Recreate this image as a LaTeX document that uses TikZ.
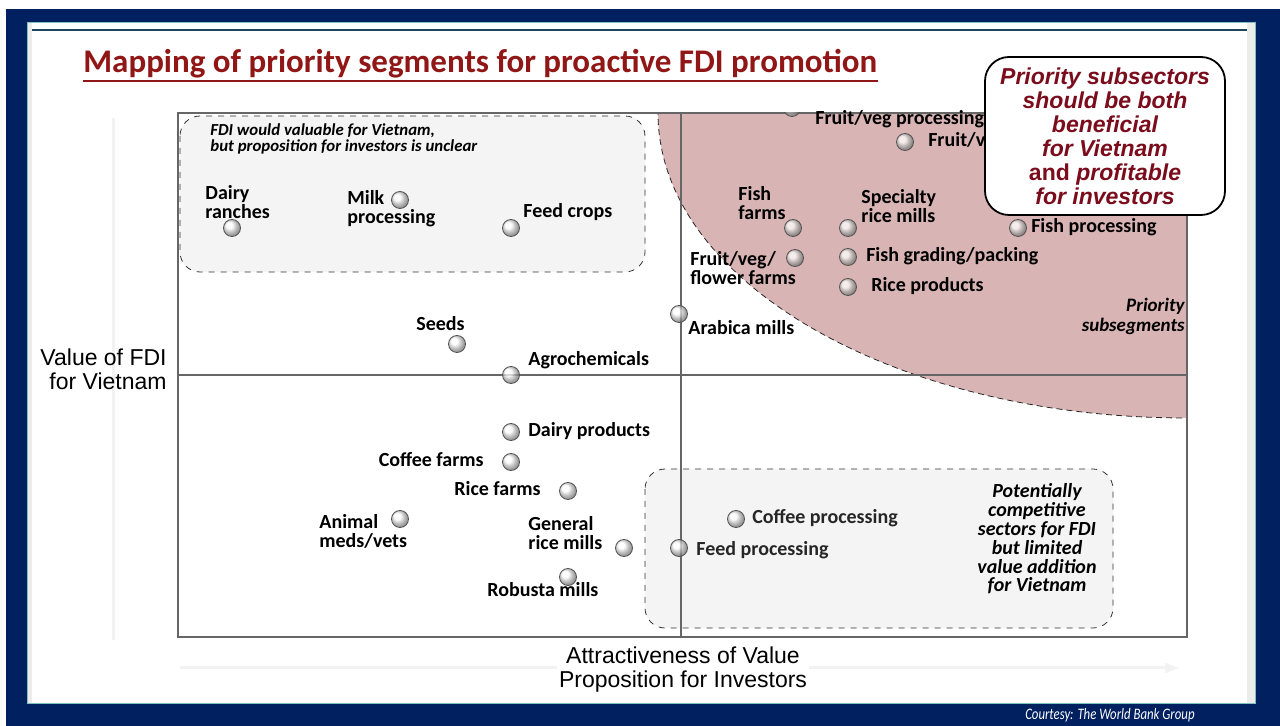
\documentclass[tikz,border=0pt]{standalone}
\usepackage{fontspec}
\setmainfont{Carlito}
\newfontfamily\arialfont{Liberation Sans}
\newfontfamily\narrowfont[FakeStretch=0.8]{Carlito}
\usetikzlibrary{positioning}
\usetikzlibrary{calc}

\definecolor{navy}{RGB}{0,32,96}
\definecolor{titlered}{RGB}{145,22,22}
\definecolor{calloutred}{RGB}{122,12,28}
\definecolor{pinkzone}{RGB}{217,180,180}
\definecolor{tealline}{RGB}{30,70,90}

\begin{document}
\begin{tikzpicture}[x=0.5pt, y=-0.5pt,
    dot/.style={circle, minimum size=8.5pt, inner sep=0pt, draw=gray!65!black, ball color=white, fill opacity=0.75},
    lbl/.style={font=\fontsize{10}{10}\selectfont\bfseries, inner sep=0pt, text height=7pt, text depth=2pt},
    lbltwo/.style={font=\fontsize{10}{9.5}\selectfont\bfseries, inner sep=0pt, align=left},
    zonebox/.style={draw=gray!40!black, dashed, fill=gray!9, rounded corners=10pt},
    note/.style={font=\fontsize{10}{9.4}\selectfont\bfseries\itshape, inner sep=0pt, align=center},
    axislbl/.style={font=\arialfont\fontsize{11.5}{12}\selectfont, inner sep=1pt},
    faint/.style={gray!10, line width=1.5pt}]
    \useasboundingbox (0,0) rectangle (1280,726);
    % frame of the slide
    \fill[white] (0,0) rectangle (1280,726);
    \fill[navy] (6,9) rectangle (1280,726);
    \fill[white] (27,22) rectangle (1255,703);
    \fill[gray!15] (27,22) rectangle (32,703);
    \fill[gray!15] (1247,22) rectangle (1255,703);
    \draw[teal!50, thin] (27,22) rectangle (1255,703);
    \draw[tealline, line width=1pt] (32,30) -- (1247,30);

    \node[anchor=base west, inner sep=0pt, text=titlered, font=\fontsize{16.5}{18}\selectfont\bfseries] (title) at (83,73) {Mapping of priority segments for proactive FDI promotion};
    \draw[titlered, line width=0.8pt] ($(title.base west)+(0,8)$) -- ($(title.base east)+(0,8)$);

    % faint axis arrows
    \draw[faint] (113,640) -- (113,118);
    \draw[faint, -latex] (180,668) -- (1180,668);

    % zones
    \begin{scope}
        \clip (178,113) rectangle (1187,637);
        \fill[pinkzone] (1187,113) ellipse [x radius=264.5pt, y radius=152.5pt];
        \draw[gray!30!black, densely dashed] (1187,113) ellipse [x radius=264.5pt, y radius=152.5pt];
    \end{scope}
    \draw[zonebox] (180,116) rectangle (645,272);
    \draw[zonebox] (645,469) rectangle (1113,628);

    % plot frame and axes
    \draw[gray!80!black, line width=0.6pt] (178,113) rectangle (1187,637);
    \draw[gray!80!black, line width=0.6pt] (681,113) -- (681,637);
    \draw[gray!80!black, line width=0.6pt] (178,375) -- (1187,375);

    \node[axislbl, anchor=east, align=right] (ylab) at (169,369) {Value of FDI\\for Vietnam};
    \node[axislbl, fill=white, align=center] (xlab) at (683,670) {Attractiveness of Value\\Proposition for Investors};

    % zone notes
    \node[note, anchor=north west, align=left, font=\fontsize{8.4}{8}\selectfont\bfseries\itshape] (unclear) at (210,123) {FDI would valuable for Vietnam,\\but proposition for investors is unclear};
    \node[note] (limited) at (1037,539) {Potentially\\competitive\\sectors for FDI\\but limited\\value addition\\for Vietnam};
    \node[note, anchor=north east, align=right, font=\fontsize{9.5}{10}\selectfont\bfseries\itshape] (prio) at (1185,298) {Priority\\subsegments};

    % subsectors
    \node[dot] (ranch) at (232,228) {};
    \node[lbltwo, anchor=north west] (ranch-t) at ($(ranch)+(-27,-43)$) {Dairy\\ranches};
    \node[dot] (milk) at (400,200) {};
    \node[lbltwo, anchor=north west] (milk-t) at ($(milk)+(-53,-10)$) {Milk\\processing};
    \node[dot] (feedcrop) at (511,228) {};
    \node[lbl, anchor=west] (feedcrop-t) at ($(feedcrop)+(12,-15)$) {Feed crops};
    \node[dot] (seeds) at (457,344) {};
    \node[lbl, anchor=west] (seeds-t) at ($(seeds)+(-41,-18)$) {Seeds};
    \node[dot] (agro) at (511,375) {};
    \node[lbl, anchor=west] (agro-t) at ($(agro)+(17,-14)$) {Agrochemicals};
    \node[dot] (arabica) at (679,314) {};
    \node[lbl, anchor=west] (arabica-t) at ($(arabica)+(9,16)$) {Arabica mills};
    \node[dot] (dairyprod) at (511,432) {};
    \node[lbl, right=4pt of dairyprod] (dairyprod-t) {Dairy products};
    \node[dot] (coffeefarm) at (511,462) {};
    \node[lbl, left=9pt of coffeefarm] (coffeefarm-t) {Coffee farms};
    \node[dot] (ricefarm) at (568,491) {};
    \node[lbl, left=9pt of ricefarm] (ricefarm-t) {Rice farms};
    \node[dot] (animal) at (400,519) {};
    \node[lbltwo, anchor=north west] (animal-t) at ($(animal)+(-81,-5)$) {Animal\\meds/vets};
    \node[dot] (genrice) at (624,548) {};
    \node[lbltwo, anchor=north west] (genrice-t) at ($(genrice)+(-96,-32)$) {General\\rice mills};
    \node[dot] (robusta) at (568,577) {};
    \node[lbl, anchor=west] (robusta-t) at ($(robusta)+(-81,15)$) {Robusta mills};
    \node[dot] (coffeeproc) at (736,519) {};
    \node[lbl, right=3.5pt of coffeeproc, text=gray!30!black] (coffeeproc-t) {Coffee processing};
    \node[dot] (feedproc) at (679,548) {};
    \node[lbl, anchor=west, text=gray!30!black] (feedproc-t) at ($(feedproc)+(17,3)$) {Feed processing};
    \begin{scope}
        \clip (178,113) rectangle (1187,637);
        \node[dot] (fvproc) at (792,108) {};
    \end{scope}
    \node[lbl, anchor=west] (fvproc-t) at ($(fvproc)+(23,12)$) {Fruit/veg processing};
    \node[dot] (fvexp) at (905,142) {};
    \node[lbl, right=7pt of fvexp] (fvexp-t) {Fruit/veg};
    \node[dot] (fishfarm) at (793,228) {};
    \node[lbltwo, anchor=north west] (fishfarm-t) at ($(fishfarm)+(-55,-42)$) {Fish\\farms};
    \node[dot] (specrice) at (848,228) {};
    \node[lbltwo, anchor=north west] (specrice-t) at ($(specrice)+(13,-39)$) {Specialty\\rice mills};
    \node[dot] (fishproc) at (1018,228) {};
    \node[lbl, right=2pt of fishproc] (fishproc-t) {Fish processing};
    \node[dot] (fvfarm) at (795,258) {};
    \node[lbltwo, anchor=north west] (fvfarm-t) at ($(fvfarm)+(-105,-7)$) {Fruit/veg/\\flower farms};
    \node[dot] (fishgrade) at (848,257) {};
    \node[lbl, right=4.5pt of fishgrade] (fishgrade-t) {Fish grading/packing};
    \node[dot] (riceprod) at (848,287) {};
    \node[lbl, right=7pt of riceprod] (riceprod-t) {Rice products};

    % callout
    \node[draw=black, line width=0.9pt, fill=white, rounded corners=12pt, minimum width=120pt, minimum height=79pt,
        align=center, text=calloutred, font=\arialfont\fontsize{11.5}{12}\selectfont\bfseries\itshape] (callout) at (1105,136)
        {Priority subsectors\\should be both\\beneficial\\for Vietnam\\{\upshape and} profitable\\for investors};

    \node[anchor=base east, inner sep=0pt, text=white, font=\narrowfont\fontsize{8}{9}\selectfont\itshape] (credit) at (1195,719) {Courtesy: The World Bank Group};
\end{tikzpicture}
\end{document}
